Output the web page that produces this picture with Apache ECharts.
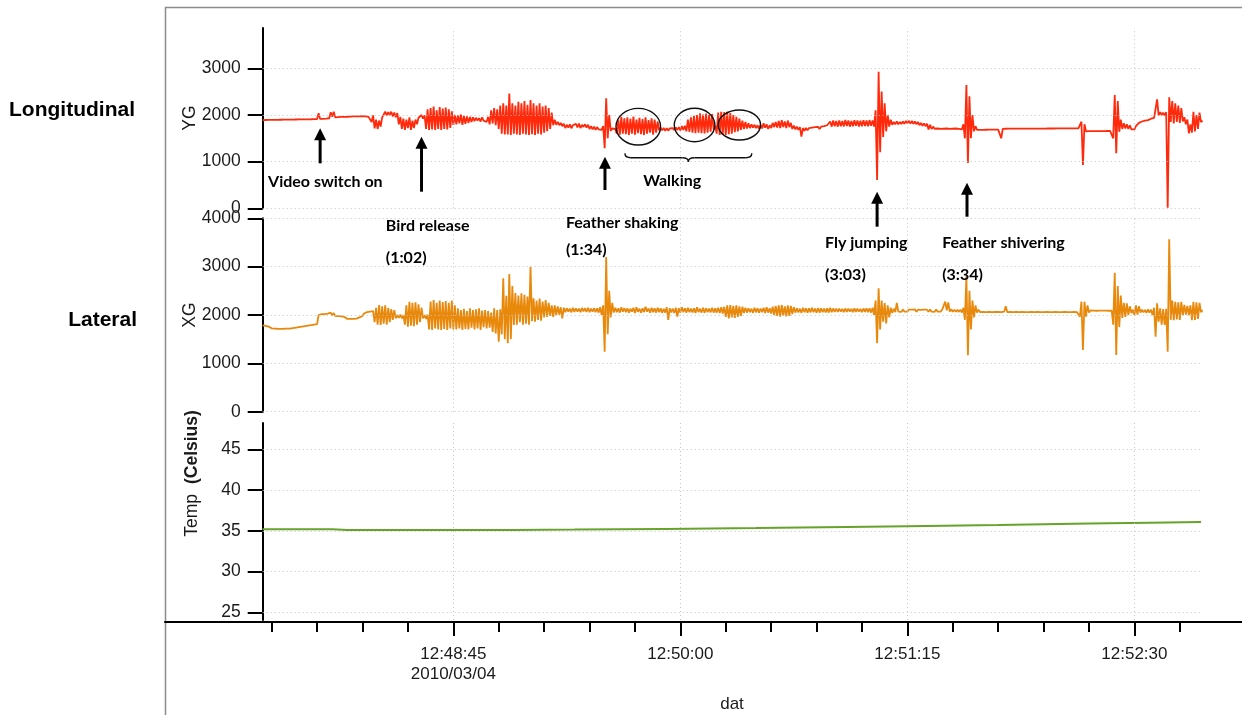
<!DOCTYPE html>
<html>
<head>
<meta charset="utf-8">
<title>YG / XG / Temp</title>
<script src="https://cdn.jsdelivr.net/npm/echarts@6/dist/echarts.min.js"></script>
<style>
  html, body { margin: 0; padding: 0; background: #fff; }
  #main { width: 1242px; height: 715px; }
</style>
</head>
<body>
<div id="main"></div>
<script>
// one reading per second starting at 12:47:42, lo / hi of that second
var sampleStart = '12:47:42';

var ygLo = [
  1890,1892,1893,1895,1896,1897,1898,1899,1900,1901,   // -3
  1902,1903,1904,1905,1906,1907,1908,1910,1912,1915,   // 7
  1918,1920,1930,1960,1950,1955,1958,1960,1962,1965,   // 17
  1968,1970,1972,1975,1970,1960,1850,1714,1700,1750,   // 27
  1980,1990,2000,1970,1950,1800,1700,1680,1720,1680,   // 37
  1720,1800,1900,1920,1700,1680,1690,1680,1700,1680,   // 47
  1700,1690,1720,1790,1800,1820,1790,1810,1830,1850,   // 57
  1870,1880,1860,1880,1850,1800,1820,1780,1700,1600,   // 67
  1580,1580,1570,1600,1580,1570,1600,1580,1570,1590,   // 77
  1570,1600,1580,1620,1650,1700,1780,1790,1780,1760,   // 87
  1720,1730,1715,1740,1735,1720,1745,1730,1700,1690,   // 97
  1680,1690,1680,1286,1500,1660,1670,1600,1580,1600,   // 107
  1590,1570,1600,1580,1610,1590,1570,1600,1620,1580,   // 117
  1620,1670,1670,1660,1665,1670,1675,1680,1670,1680,   // 127
  1650,1640,1620,1610,1620,1610,1607,1620,1640,1690,   // 137
  1600,1571,1580,1571,1590,1600,1630,1650,1680,1700,   // 147
  1710,1720,1730,1720,1700,1710,1730,1700,1720,1740,   // 157
  1730,1720,1740,1720,1740,1700,1690,1680,1535,1660,   // 167
  1670,1680,1690,1700,1700,1710,1720,1740,1750,1760,   // 177
  1750,1760,1755,1765,1750,1760,1770,1755,1760,1765,   // 187
  1760,1770,1750,605,1200,1530,1650,1750,1790,1800,    // 197
  1800,1805,1810,1820,1815,1810,1800,1780,1770,1760,   // 207
  1690,1700,1705,1710,1700,1705,1710,1700,1705,1710,   // 217
  1700,1690,1500,970,1500,1650,1680,1680,1682,1683,    // 227
  1684,1685,1685,1686,1500,1680,1684,1685,1686,1686,   // 237
  1686,1687,1687,1688,1688,1688,1689,1689,1690,1690,   // 247
  1690,1691,1691,1692,1692,1693,1693,1694,1694,1695,   // 257
  1680,928,1650,1655,1655,1655,1656,1656,1656,1657,    // 267
  1657,1500,1178,1640,1700,1710,1700,1690,1690,1740,   // 277
  1800,1830,1850,1870,1880,1900,1990,2000,1990,10,     // 287
  1850,1820,1850,1830,1860,1800,1607,1620,1650,1700,   // 297
  1850                                                 // 307
];
var ygHi = [
  1908,1910,1911,1912,1913,1914,1915,1916,1917,1918,
  1919,1920,1921,1922,1923,1924,1925,1928,2040,1935,
  1935,1940,2060,2070,1985,1975,1978,1980,1982,1985,
  1988,1995,2000,2000,1998,1995,1990,1900,1880,1950,
  2070,2060,2070,2050,2040,1960,1920,1900,1950,1880,
  1900,1940,2000,1990,2120,2150,2180,2100,2170,2140,
  2160,2120,2080,2000,1990,2010,1980,1970,1960,1950,
  1940,1930,1950,1920,1960,2100,2150,2120,2200,2250,
  2200,2460,2250,2200,2280,2250,2300,2220,2320,2250,
  2200,2250,2180,2200,2150,2050,1900,1850,1830,1810,
  1790,1800,1780,1810,1815,1790,1800,1790,1760,1750,
  1740,1730,1760,2357,2000,1710,1700,1900,1960,1930,
  1950,1920,1964,1900,1940,1910,1950,1890,1930,1900,
  1860,1730,1720,1715,1710,1720,1730,1740,1760,1770,
  1900,1950,1980,2000,2035,2010,2030,2000,2020,1770,
  2050,2070,2060,2070,2040,2000,1960,1920,1880,1850,
  1820,1800,1790,1780,1790,1820,1800,1780,1830,1850,
  1870,1890,1860,1880,1830,1770,1750,1740,1720,1720,
  1720,1730,1740,1745,1750,1760,1780,1860,1880,1870,
  1880,1870,1892,1880,1870,1885,1880,1875,1890,1880,
  1890,1880,2100,2927,2500,2250,2000,1900,1850,1860,
  1850,1860,1870,1875,1870,1860,1850,1830,1820,1810,
  1790,1750,1745,1740,1740,1745,1740,1735,1740,1745,
  1740,1800,2640,2400,2000,1760,1715,1712,1710,1710,
  1708,1708,1708,1706,1700,1705,1706,1706,1707,1707,
  1706,1706,1707,1707,1708,1708,1708,1709,1709,1710,
  1710,1710,1711,1711,1712,1712,1713,1713,1714,1714,
  1856,1800,1690,1672,1672,1672,1673,1673,1673,1674,
  1680,2428,2300,1900,1825,1800,1780,1720,1760,1830,
  1860,1880,1890,1920,1940,2335,2060,2050,2060,2377,
  2300,2250,2200,2150,1950,1900,1800,2070,2000,2050,
  1880
];

var xgLo = [
  1785,1775,1760,1725,1718,1716,1715,1716,1718,1720,
  1730,1740,1750,1760,1770,1780,1790,1800,1810,1980,
  1985,1990,2000,1995,1980,1975,1970,1960,1920,1920,
  1920,1925,1950,1980,2000,2020,2030,1850,1800,1793,
  1820,1800,1850,1900,1930,1940,1930,1800,1758,1780,
  1770,1800,1850,1930,1920,1700,1690,1720,1700,1690,
  1710,1690,1720,1700,1700,1720,1690,1710,1700,1740,
  1700,1720,1690,1750,1720,1740,1650,1620,1448,1600,
  1500,1414,1500,1793,1800,1850,1800,1820,1800,1870,
  1862,1900,1880,1950,1960,1980,1960,2000,2010,1931,
  2060,2070,2055,2065,2070,2060,2075,2065,2060,2070,
  2060,2050,2000,1241,1600,1950,2050,2060,2050,2070,
  2060,2050,2070,2040,2065,2050,2060,2070,2045,2060,
  2050,2060,2040,2050,1897,2055,2040,1966,2050,2060,
  2050,2060,2055,2040,2060,2050,2045,2060,2055,2050,
  2050,2040,2030,1960,1931,1950,1940,1960,1980,2040,
  2050,2060,2045,2055,2050,2060,2040,2050,2030,2000,
  1980,1966,1990,1970,1980,2020,2050,2055,2045,2060,
  2050,2055,2060,2045,2050,2060,2055,2050,2060,2065,
  2065,2070,2060,2065,2070,2060,2065,2070,2060,2065,
  2060,2050,2000,1414,1700,1862,1827,1950,2040,2060,
  2070,2065,2070,2068,2072,2070,2066,2070,2068,2072,
  2068,2070,2066,2070,2068,2090,2095,2070,2068,2066,
  2065,2050,1900,1170,1700,1950,2050,2060,2062,2060,
  2062,2060,2064,2062,2060,2070,2060,2062,2061,2063,
  2060,2062,2061,2060,2063,2061,2062,2060,2061,2062,
  2060,2061,2062,2060,2061,2062,2060,2061,2062,2060,
  1965,1276,1965,2050,2055,2056,2055,2057,2055,2056,
  2055,1800,1173,1750,1940,1960,2000,2040,2000,2010,
  2050,2055,2045,2050,2000,1551,1860,1800,1793,1241,
  1900,1895,1910,1900,2000,2010,2000,1895,1900,1920,
  2060
];
var xgHi = [
  1800,1793,1780,1740,1732,1730,1730,1731,1732,1735,
  1745,1755,1765,1775,1785,1795,1805,1820,2000,2020,
  2020,2030,2048,2040,2020,2015,2010,2000,1950,1945,
  1945,1950,1990,2030,2060,2070,2080,2150,2207,2180,
  2200,2150,2120,2100,2000,2010,2000,2200,2275,2250,
  2260,2220,2150,2000,2010,2280,2310,2250,2300,2270,
  2290,2250,2300,2200,2140,2100,2130,2080,2140,2100,
  2120,2140,2090,2100,2080,2050,2140,2100,2120,2759,
  2400,2848,2600,2455,2400,2450,2420,2380,3000,2345,
  2300,2340,2280,2310,2250,2200,2200,2180,2160,2150,
  2140,2130,2150,2135,2130,2145,2140,2150,2130,2140,
  2140,2160,2200,3200,2500,2250,2150,2140,2160,2140,
  2140,2130,2150,2160,2130,2140,2170,2135,2150,2140,
  2150,2140,2130,2160,2140,2130,2150,2140,2160,2140,
  2150,2130,2140,2160,2130,2150,2140,2135,2150,2140,
  2150,2160,2170,2200,2207,2190,2200,2180,2170,2150,
  2140,2130,2150,2140,2135,2150,2160,2140,2170,2190,
  2200,2207,2180,2200,2190,2160,2140,2130,2150,2140,
  2140,2150,2135,2145,2140,2130,2140,2150,2135,2130,
  2130,2125,2135,2130,2125,2140,2130,2125,2135,2140,
  2140,2150,2300,2552,2300,2248,2200,2150,2130,2248,
  2110,2115,2108,2112,2110,2115,2110,2108,2112,2110,
  2112,2110,2115,2110,2112,2276,2260,2120,2110,2108,
  2110,2150,2800,2500,2300,2200,2110,2100,2100,2098,
  2098,2100,2096,2098,2100,2180,2096,2098,2097,2096,
  2095,2094,2096,2095,2094,2096,2095,2094,2096,2095,
  2094,2096,2095,2094,2096,2095,2094,2096,2095,2094,
  2275,2275,2200,2095,2090,2088,2090,2089,2090,2088,
  2090,2875,2600,2400,2250,2240,2180,2110,2200,2180,
  2110,2105,2115,2110,2150,2242,2138,2120,2130,3565,
  2300,2275,2260,2270,2207,2190,2200,2275,2260,2250,
  2100
];

var tempTimes = ['12:47:42', '12:48:05', '12:48:10', '12:48:45', '12:49:05', '12:49:25', '12:49:55',
  '12:50:25', '12:50:55', '12:51:15', '12:51:45', '12:52:15', '12:52:35', '12:52:52'];
var tempValues = [35.2, 35.19, 35.1, 35.09, 35.1, 35.15, 35.24, 35.34, 35.46, 35.55, 35.72, 35.9, 36.0, 36.08];

var ygTicks = [0, 1000, 2000, 3000];
var xgTicks = [0, 1000, 2000, 3000, 4000];
var tempTicks = [25, 30, 35, 40, 45];
var majorTimes = ['12:48:45', '12:50:00', '12:51:15', '12:52:30'];
var minorTimes = ['12:47:45', '12:48:00', '12:48:15', '12:48:30', '12:48:45', '12:49:00', '12:49:15',
  '12:49:30', '12:49:45', '12:50:00', '12:50:15', '12:50:30', '12:50:45', '12:51:00', '12:51:15',
  '12:51:30', '12:51:45', '12:52:00', '12:52:15', '12:52:30', '12:52:45'];
var dateLabel = '2010/03/04';

// annotations, placed in the YG panel's own units
var annLabels = ['Video switch on', 'Bird release', 'Feather shaking', 'Fly jumping', 'Feather shivering'];
var annSubs = ['', '(1:02)', '(1:34)', '(3:03)', '(3:34)'];
var annArrowTimes = ['12:48:01', '12:48:34.5', '12:49:35.1', '12:51:05', '12:51:34.7'];
var annHeads = [1714, 1534, 1106, 356, 549];
var annTails = [964, 356, 392, -394, -180];
var annTextTimes = ['12:47:43.8', '12:48:22.7', '12:49:22.2', '12:50:47.8', '12:51:26.5'];
var annTextLevels = [574, -379, -315, -744, -744];
var annSubLevels = [null, -1065, -894, -1430, -1430];
var walkLabel = 'Walking';
var walkLabelAt = ['12:49:57.3', 581];
var walkCircleTimes = ['12:49:46.1', '12:50:04.7', '12:50:19.5'];
var walkCircleLevels = [1749, 1785, 1785];
var walkBraceTimes = ['12:49:41.7', '12:50:23.6'];
var walkBraceLevels = [1179, 999];

function sec(s) {
  var p = s.split(':');
  return (+p[0]) * 3600 + (+p[1]) * 60 + parseFloat(p[2]);
}
function pad(n) { return (n < 10 ? '0' : '') + n; }
function clock(v) {
  v = Math.round(v);
  return pad(Math.floor(v / 3600)) + ':' + pad(Math.floor(v / 60) % 60) + ':' + pad(v % 60);
}

// zigzag lo -> hi inside each second
function zig(lo, hi) {
  var s0 = sec(sampleStart), out = [];
  for (var i = 0; i < lo.length; i++) {
    out.push([s0 + i, lo[i]]);
    out.push([s0 + i + 0.5, hi[i]]);
  }
  return out;
}

var plotL = 262.7, plotR = 1202, frameL = 165, frameR = 1242;
var xMin = sec('12:47:42.03'), xMax = sec('12:52:52.33');
var pps = (plotR - plotL) / (xMax - xMin);
var axMin = xMin - (plotL - frameL) / pps;
var axMax = xMax + (frameR - plotR) / pps;

var txt = '#1a1a1a';
var gridColor = '#c4c4c4';
var font = 'Liberation Sans, Arial, sans-serif';

function hiddenX(i) {
  return { type: 'value', gridIndex: i, min: xMin, max: xMax, show: false };
}
function yAx(i, min, max, ticks, name) {
  return {
    type: 'value', gridIndex: i, min: min, max: max,
    name: name, nameLocation: 'middle', nameGap: 64, nameMoveOverlap: false,
    nameTextStyle: { fontSize: 17.5, color: txt, fontFamily: font },
    axisLine: { show: true, lineStyle: { color: '#000', width: 2 } },
    axisTick: { show: true, length: 15, lineStyle: { color: '#000', width: 2 }, customValues: ticks },
    axisLabel: { fontSize: 17.5, color: txt, margin: 22, fontFamily: font, customValues: ticks,
      formatter: function (v) { return String(v); } },
    splitLine: { show: false }
  };
}
function gridLines(i, ticks) {
  var d = ticks.map(function (v) { return { yAxis: v }; })
    .concat(majorTimes.map(function (t) { return { xAxis: sec(t) }; }));
  return {
    type: 'line', xAxisIndex: i, yAxisIndex: i, data: [], z: 1, silent: true,
    markLine: {
      silent: true, symbol: ['none', 'none'], label: { show: false }, animation: false,
      lineStyle: { color: gridColor, type: [1, 3], width: 1 },
      data: d
    }
  };
}

var tempAxis = yAx(2, 24.06, 48.23, tempTicks, '{a|Temp}   {b|(Celsius)}');
tempAxis.nameGap = 62;
tempAxis.nameTextStyle = {
  color: txt, fontFamily: font, padding: [0, 0, 0, 96],
  rich: { a: { fontSize: 17.5, fontFamily: font, color: txt },
          b: { fontSize: 17.5, fontFamily: font, color: txt, fontWeight: 'bold' } }
};

var chart = echarts.init(document.getElementById('main'), null, { renderer: 'canvas' });
chart.setOption({
  animation: false,
  backgroundColor: '#fff',
  grid: [
    { left: plotL, right: frameR - plotR, top: 28, height: 180.3 },
    { left: plotL, right: frameR - plotR, top: 218.3, height: 193.4 },
    { left: plotL, right: frameR - plotR, top: 423, height: 197 },
    { left: frameL, right: 0, top: 562, height: 60 }
  ],
  xAxis: [
    hiddenX(0), hiddenX(1), hiddenX(2),
    {
      type: 'value', gridIndex: 3, min: axMin, max: axMax, position: 'bottom',
      name: 'dat', nameLocation: 'middle', nameGap: 74, nameMoveOverlap: false,
      nameTextStyle: { fontSize: 17, color: txt, fontFamily: font, padding: [0, 0, 0, 57] },
      axisLine: { show: true, lineStyle: { color: '#000', width: 2 } },
      axisTick: { show: true, length: 10, lineStyle: { color: '#000', width: 2 },
        customValues: minorTimes.map(sec) },
      axisLabel: {
        fontSize: 17, color: txt, margin: 22, lineHeight: 20, fontFamily: font,
        customValues: majorTimes.map(sec),
        formatter: function (v) {
          return Math.abs(v - sec(majorTimes[0])) < 0.5 ? clock(v) + '\n' + dateLabel : clock(v);
        }
      },
      splitLine: { show: false }
    },
    {
      type: 'value', gridIndex: 3, min: axMin, max: axMax, position: 'bottom',
      axisLine: { show: false },
      axisTick: { show: true, length: 14, lineStyle: { color: '#000', width: 2 },
        customValues: majorTimes.map(sec) },
      axisLabel: { show: false },
      splitLine: { show: false }
    }
  ],
  yAxis: [
    yAx(0, 0, 3864, ygTicks, 'YG'),
    yAx(1, 0, 4000, xgTicks, 'XG'),
    tempAxis,
    { type: 'value', gridIndex: 3, show: false, min: 0, max: 1 }
  ],
  series: [
    gridLines(0, ygTicks), gridLines(1, xgTicks), gridLines(2, tempTicks),
    {
      name: 'YG', type: 'line', xAxisIndex: 0, yAxisIndex: 0, z: 3,
      showSymbol: false, data: zig(ygLo, ygHi),
      lineStyle: { color: '#ff2a0c', width: 1.8 }
    },
    {
      name: 'XG', type: 'line', xAxisIndex: 1, yAxisIndex: 1, z: 3,
      showSymbol: false, data: zig(xgLo, xgHi),
      lineStyle: { color: '#e8890c', width: 1.8 }
    },
    {
      name: 'Temp', type: 'line', xAxisIndex: 2, yAxisIndex: 2, z: 3,
      showSymbol: false,
      data: tempTimes.map(function (t, i) { return [sec(t), tempValues[i]]; }),
      lineStyle: { color: '#66a32a', width: 2 }
    }
  ]
});

// annotation layer, positioned through the YG panel's scales
function px(t, v) { return chart.convertToPixel({ gridIndex: 0 }, [sec(t), v]); }
var annFont = 'Lato, Liberation Sans, sans-serif';
var ink = { stroke: '#111', lineWidth: 1.4, fill: 'none' };
var g = [];
g.push({ type: 'rect', z: 0, silent: true,
  shape: { x: frameL + 0.5, y: 7.5, width: frameR - frameL + 10, height: 720 },
  style: { fill: 'none', stroke: '#8c8c8c', lineWidth: 1.5 } });
g.push({ type: 'text', z: 10, style: { text: 'Longitudinal', x: 135, y: 110, align: 'right',
  verticalAlign: 'middle', fontSize: 21, fontWeight: 'bold', fontFamily: font, fill: '#000' } });
g.push({ type: 'text', z: 10, style: { text: 'Lateral', x: 137, y: 320, align: 'right',
  verticalAlign: 'middle', fontSize: 21, fontWeight: 'bold', fontFamily: font, fill: '#000' } });

annLabels.forEach(function (lab, i) {
  var h = px(annArrowTimes[i], annHeads[i]);
  var tl = px(annArrowTimes[i], annTails[i]);
  g.push({ type: 'line', z: 10, shape: { x1: tl[0], y1: tl[1], x2: h[0], y2: h[1] + 10 },
    style: { stroke: '#000', lineWidth: 3 } });
  g.push({ type: 'polygon', z: 10,
    shape: { points: [[h[0], h[1]], [h[0] - 6, h[1] + 12], [h[0] + 6, h[1] + 12]] },
    style: { fill: '#000' } });
  var p = px(annTextTimes[i], annTextLevels[i]);
  g.push({ type: 'text', z: 10, style: { text: lab, x: p[0], y: p[1], align: 'left',
    verticalAlign: 'middle', fontSize: 16, fontWeight: 'bold', fontFamily: annFont, fill: '#000' } });
  if (annSubs[i]) {
    var q = px(annTextTimes[i], annSubLevels[i]);
    g.push({ type: 'text', z: 10, style: { text: annSubs[i], x: q[0], y: q[1], align: 'left',
      verticalAlign: 'middle', fontSize: 16, fontWeight: 'bold', fontFamily: annFont, fill: '#000' } });
  }
});

var rx = [22.3, 20.3, 21.2], ry = [18.3, 16.7, 15];
walkCircleTimes.forEach(function (t, i) {
  var c = px(t, walkCircleLevels[i]);
  g.push({ type: 'ellipse', z: 10, shape: { cx: c[0], cy: c[1], rx: rx[i], ry: ry[i] },
    style: ink });
});

// curly brace under the walking bouts
var b1 = px(walkBraceTimes[0], walkBraceLevels[0]);
var b2 = px(walkBraceTimes[1], walkBraceLevels[0]);
var tip = px(walkBraceTimes[0], walkBraceLevels[1])[1];
var mid = (b1[0] + b2[0]) / 2, yTop = b1[1], yM = yTop + 4.5;
g.push({ type: 'bezierCurve', z: 10, style: ink,
  shape: { x1: b1[0], y1: yTop, cpx1: b1[0], cpy1: yM, x2: b1[0] + 6, y2: yM } });
g.push({ type: 'line', z: 10, style: ink,
  shape: { x1: b1[0] + 6, y1: yM, x2: mid - 6, y2: yM } });
g.push({ type: 'bezierCurve', z: 10, style: ink,
  shape: { x1: mid - 6, y1: yM, cpx1: mid, cpy1: yM, x2: mid, y2: tip } });
g.push({ type: 'bezierCurve', z: 10, style: ink,
  shape: { x1: mid, y1: tip, cpx1: mid, cpy1: yM, x2: mid + 6, y2: yM } });
g.push({ type: 'line', z: 10, style: ink,
  shape: { x1: mid + 6, y1: yM, x2: b2[0] - 6, y2: yM } });
g.push({ type: 'bezierCurve', z: 10, style: ink,
  shape: { x1: b2[0] - 6, y1: yM, cpx1: b2[0], cpy1: yM, x2: b2[0], y2: yTop } });

var w = px(walkLabelAt[0], walkLabelAt[1]);
g.push({ type: 'text', z: 10, style: { text: walkLabel, x: w[0], y: w[1], align: 'center',
  verticalAlign: 'middle', fontSize: 16, fontWeight: 'bold', fontFamily: annFont, fill: '#000' } });

chart.setOption({ graphic: g });
</script>
</body>
</html>
